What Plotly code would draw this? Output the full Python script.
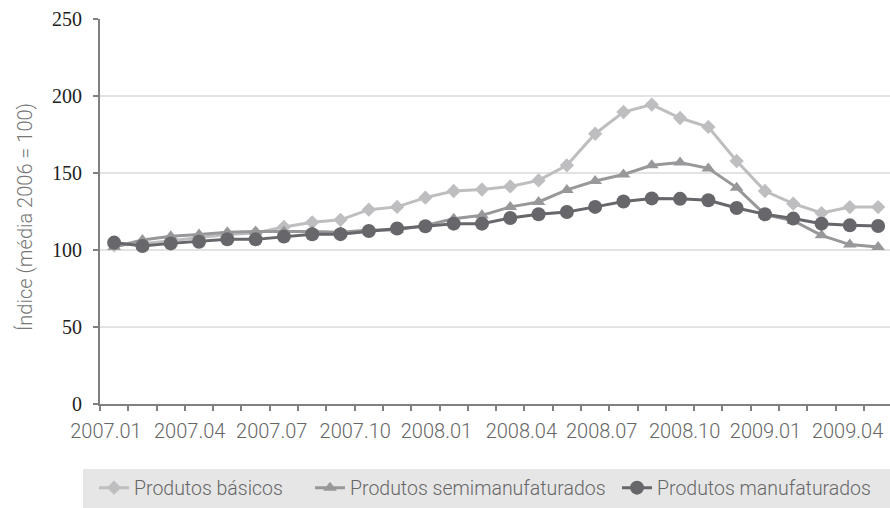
import plotly.graph_objects as go

months = ["2007.01", "2007.02", "2007.03", "2007.04", "2007.05", "2007.06", "2007.07",
          "2007.08", "2007.09", "2007.10", "2007.11", "2007.12", "2008.01", "2008.02",
          "2008.03", "2008.04", "2008.05", "2008.06", "2008.07", "2008.08", "2008.09",
          "2008.10", "2008.11", "2008.12", "2009.01", "2009.02", "2009.03", "2009.04"]
tick_labels = ["2007.01", "2007.04", "2007.07", "2007.10", "2008.01",
               "2008.04", "2008.07", "2008.10", "2009.01", "2009.04"]

basicos = [103, 104, 106, 108, 110, 111, 115, 118, 119.6, 126.2, 128, 134, 138.3, 139.3,
           141.3, 145.2, 155, 175.5, 189.6, 194.4, 185.7, 179.9, 157.8, 138.3, 130.1, 124, 127.9, 127.9]
semimanufaturados = [102, 106.5, 109, 110, 111.5, 112, 112, 112, 111.5, 113, 113, 116, 120.3, 122.5,
                     128, 131.2, 139, 144.8, 149, 155, 156.8, 153, 140.5, 123, 119, 109.5, 103.5, 102]
manufaturados = [104.8, 102.6, 104.3, 105.4, 106.9, 106.9, 108.7, 110.2, 110.3, 112.3, 114, 115.4, 117.1, 117.1,
                 120.8, 123.2, 124.7, 128, 131.5, 133.5, 133.2, 132.3, 127.3, 123.2, 120.4, 117.1, 116, 115.6]

SANS = "Roboto, Liberation Sans, sans-serif"

# month index used as the x coordinate
x_idx = list(range(len(months)))

series = [
    ("Produtos básicos", basicos, "#bebec1", "diamond", 11, "legend"),
    ("Produtos semimanufaturados", semimanufaturados, "#98989b", "triangle-up", 12, "legend2"),
    ("Produtos manufaturados", manufaturados, "#67676b", "circle", 14, "legend3"),
]

fig = go.Figure()
for name, vals, color, sym, size, leg in series:
    fig.add_trace(go.Scatter(
        x=x_idx, y=vals, name=name, mode="lines+markers",
        line=dict(color=color, width=3),
        marker=dict(symbol=sym, size=size, color=color),
        legend=leg, customdata=months,
        hovertemplate="%{customdata}: %{y}<extra>%{fullData.name}</extra>",
    ))

# label anchor positions (in month-index units) as laid out in the original figure
label_pos = [-0.29, 2.67, 5.57, 8.52, 11.39, 14.39, 17.23, 20.16, 23.02, 25.92]

W_PLOT = 790.0
H_PLOT = 385.0


def px_x(p):
    return (p - 100) / W_PLOT


def px_y(p):
    return (404 - p) / H_PLOT


leg_font = dict(family=SANS, size=19.5, color="#666666", weight=300)
leg_common = dict(orientation="h", xanchor="left", yanchor="middle", y=px_y(488),
                  bgcolor="rgba(0,0,0,0)", font=leg_font)

fig.update_layout(
    width=890, height=508,
    margin=dict(l=100, r=0, t=19, b=104),
    paper_bgcolor="white", plot_bgcolor="white",
    showlegend=True,
    legend=dict(x=px_x(94), **leg_common),
    legend2=dict(x=px_x(310), **leg_common),
    legend3=dict(x=px_x(617), **leg_common),
    xaxis=dict(type="linear", range=[-0.5, 27.42],
               tickmode="array", tickvals=label_pos, ticktext=tick_labels,
               ticks="", showline=True, linecolor="#808080", linewidth=2, showgrid=False,
               zeroline=False, tickangle=0, automargin=False,
               minor=dict(ticks="outside", tick0=0.5, dtick=1, ticklen=5, tickwidth=2,
                          tickcolor="#808080", showgrid=False),
               tickfont=dict(family=SANS, size=20, color="#666666", weight=300),
               ticklabelstandoff=8),
    yaxis=dict(range=[0, 250], tickvals=[0, 50, 100, 150, 200, 250],
               ticks="outside", ticklen=5, tickwidth=2, tickcolor="#808080",
               showline=True, linecolor="#808080", linewidth=2, automargin=False,
               showgrid=True, gridcolor="#e3e3e3", gridwidth=1.5, zeroline=False,
               tickfont=dict(family="Liberation Serif, serif", size=20, color="#222222"),
               ticklabelstandoff=7),
    shapes=[dict(type="rect", xref="paper", yref="paper",
                 x0=px_x(83), x1=px_x(892), y0=px_y(509), y1=px_y(469),
                 fillcolor="#e6e6e7", line=dict(width=0), layer="below")],
    annotations=[dict(text="Índice (média 2006 = 100)", xref="paper", yref="paper",
                      x=px_x(25), y=px_y(217), xanchor="center", yanchor="middle",
                      textangle=-90, showarrow=False,
                      font=dict(family=SANS, size=20, color="#777777", weight=300))],
)

fig.write_html("out.html")
